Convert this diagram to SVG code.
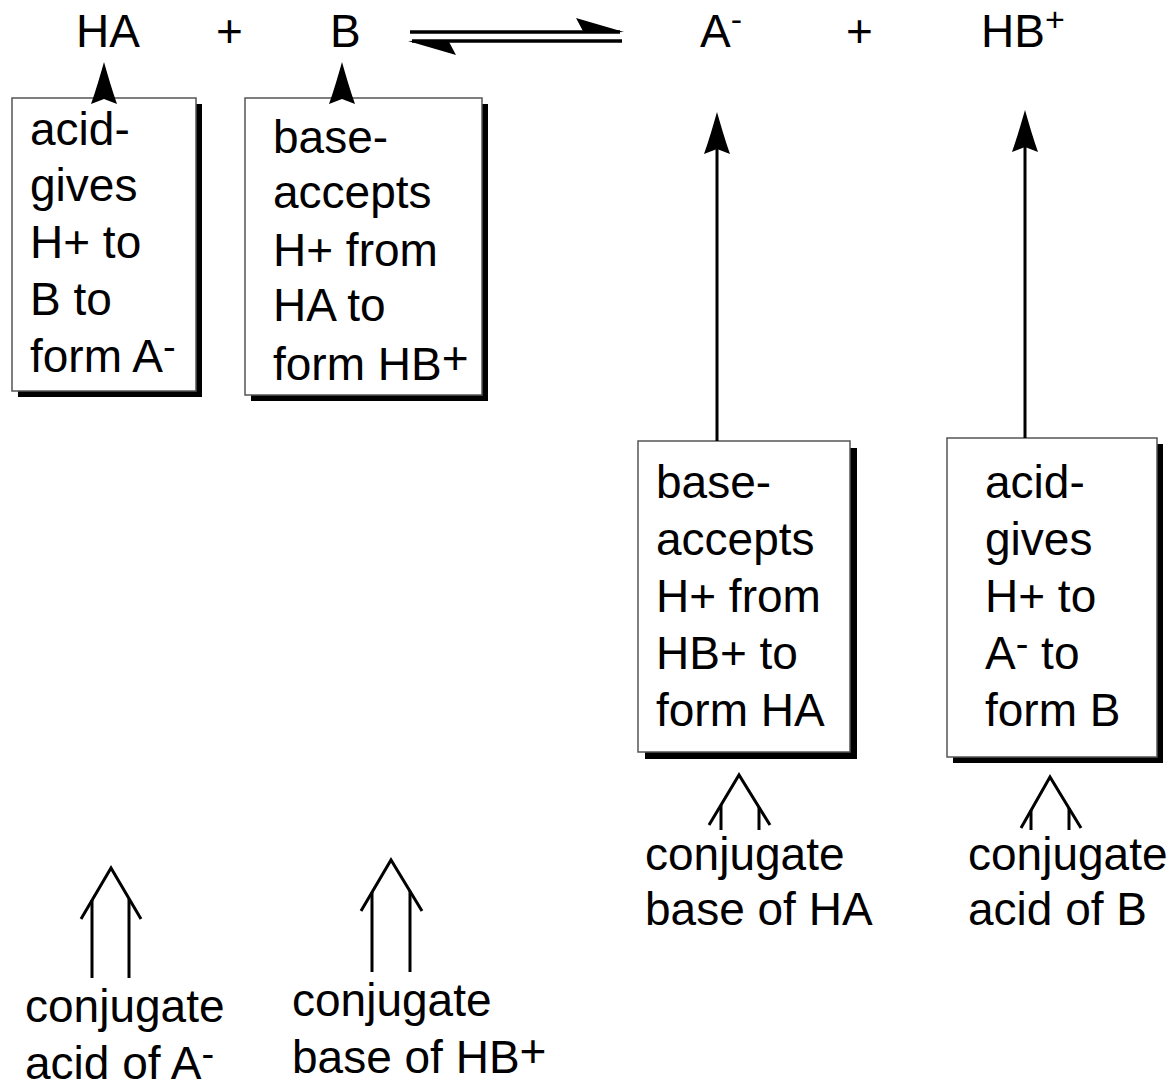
<svg xmlns="http://www.w3.org/2000/svg" width="1173" height="1090" viewBox="0 0 1173 1090">
<style>
text{font-family:"Liberation Sans",Arial,"DejaVu Sans",sans-serif;font-size:46px;fill:#000}
.box{fill:#fff;stroke:#555;stroke-width:1.5}
.shadow{fill:#000}
.ln{stroke:#000;stroke-width:3;fill:none}
.eq{stroke:#000;stroke-width:3.5;fill:none}
.head{fill:#000}
.sup{font-size:34px}
.mn{font-size:38px}
</style>
<defs>
<path id="ah" d="M0,0 C4,14 8,28 13,42 L0,37 L-13,42 C-8,28 -4,14 0,0 Z"/>
</defs>

<g id="equation">
<text x="76" y="47">HA</text>
<text x="216" y="47">+</text>
<text x="330" y="47">B</text>
<text x="700" y="47">A<tspan class="sup" dy="-16">-</tspan></text>
<text x="846" y="47">+</text>
<text x="981" y="47">HB<tspan class="sup" dy="-16">+</tspan></text>
</g>

<g id="box-acid-HA">
<rect class="shadow" x="18" y="104" width="184" height="293"/>
<rect class="box" x="12" y="98" width="184" height="293"/>
<text x="30" y="145">acid-</text>
<text x="30" y="201">gives</text>
<text x="30" y="258">H+ to</text>
<text x="30" y="315">B to</text>
<text x="30" y="372">form A<tspan class="mn" dy="-12">-</tspan></text>
</g>

<g id="box-base-B">
<rect class="shadow" x="251" y="104" width="237" height="297"/>
<rect class="box" x="245" y="98" width="237" height="297"/>
<text x="273" y="153">base-</text>
<text x="273" y="208">accepts</text>
<text x="273" y="266">H+ from</text>
<text x="273" y="321">HA to</text>
<text x="273" y="380">form HB<tspan dy="-6">+</tspan></text>
</g>

<g id="box-base-A">
<rect class="shadow" x="645" y="448" width="212" height="311"/>
<rect class="box" x="638" y="441" width="212" height="311"/>
<text x="656" y="498">base-</text>
<text x="656" y="555">accepts</text>
<text x="656" y="612">H+ from</text>
<text x="656" y="669">HB+ to</text>
<text x="656" y="726">form HA</text>
</g>

<g id="box-acid-HB">
<rect class="shadow" x="953" y="444" width="210" height="319"/>
<rect class="box" x="947" y="438" width="210" height="319"/>
<text x="985" y="498">acid-</text>
<text x="985" y="555">gives</text>
<text x="985" y="612">H+ to</text>
<text x="985" y="669">A<tspan class="mn" dy="-12">-</tspan><tspan dy="12"> to</tspan></text>
<text x="985" y="726">form B</text>
</g>

<g id="label-conj-base-HA">
<text x="645" y="870">conjugate</text>
<text x="645" y="925">base of HA</text>
</g>
<g id="label-conj-acid-B">
<text x="968" y="870">conjugate</text>
<text x="968" y="925">acid of B</text>
</g>
<g id="label-conj-acid-A">
<text x="25" y="1022">conjugate</text>
<text x="25" y="1079">acid of A<tspan class="mn" dy="-12">-</tspan></text>
</g>
<g id="label-conj-base-HB">
<text x="292" y="1016">conjugate</text>
<text x="292" y="1073">base of HB<tspan dy="-6">+</tspan></text>
</g>

<g id="connectors">
<!-- equilibrium arrows -->
<line class="eq" x1="410" y1="32" x2="620" y2="32"/>
<path class="head" d="M624,32 L576,18 L584,33 Z"/>
<line class="eq" x1="412" y1="41" x2="622" y2="41"/>
<path class="head" d="M408,41 L456,55 L448,40 Z"/>
<!-- arrows into HA and B -->
<use href="#ah" class="head" x="104" y="62"/>
<use href="#ah" class="head" x="342" y="62"/>
<!-- arrows into A- and HB+ -->
<line class="ln" x1="717" y1="441" x2="717" y2="145"/>
<use href="#ah" class="head" x="717" y="112"/>
<line class="ln" x1="1025" y1="438" x2="1025" y2="145"/>
<use href="#ah" class="head" x="1025" y="110"/>
<!-- conjugate double arrows -->
<polyline class="ln" points="709,825 739,775 770,825"/>
<line class="ln" x1="721" y1="805" x2="721" y2="830"/>
<line class="ln" x1="759" y1="807" x2="759" y2="830"/>
<polyline class="ln" points="1021,828 1050,777 1081,828"/>
<line class="ln" x1="1031" y1="810" x2="1031" y2="830"/>
<line class="ln" x1="1069" y1="808" x2="1069" y2="830"/>
<polyline class="ln" points="81,919 111,868 141,919"/>
<line class="ln" x1="92" y1="900" x2="92" y2="978"/>
<line class="ln" x1="129" y1="899" x2="129" y2="978"/>
<polyline class="ln" points="361,911 391,860 422,911"/>
<line class="ln" x1="372" y1="892" x2="372" y2="972"/>
<line class="ln" x1="410" y1="891" x2="410" y2="972"/>
</g>
</svg>
